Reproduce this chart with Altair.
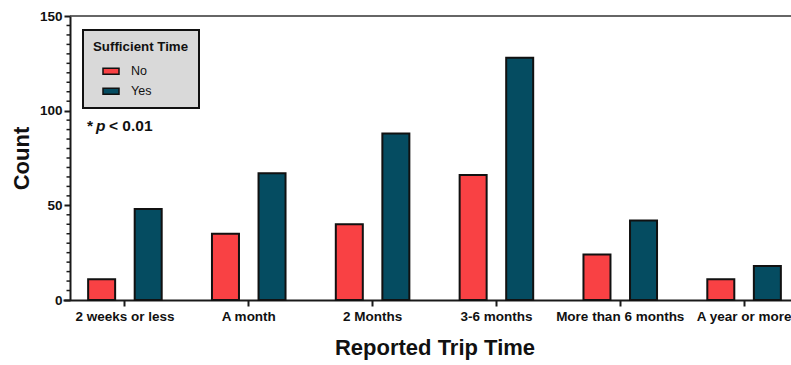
import altair as alt
import pandas as pd

# Survey counts by reported trip length, split by whether time was sufficient
trip_time = ["2 weeks or less", "A month", "2 Months", "3-6 months",
             "More than 6 months", "A year or more"]
count_no = [11, 35, 40, 66, 24, 11]
count_yes = [48, 67, 88, 128, 42, 18]
groups = ["No", "Yes"]
group_colors = ["#f94144", "#054c61"]

y_major = [0, 50, 100, 150]
y_minor = [5, 10, 15, 20, 25, 30, 35, 40, 45, 55, 60, 65, 70, 75, 80, 85, 90, 95,
           105, 110, 115, 120, 125, 130, 135, 140, 145]

FONT = "Liberation Sans"
INK = "#111111"

rows = []
for t, n, y in zip(trip_time, count_no, count_yes):
    rows.append({"trip": t, "group": "No", "count": n})
    rows.append({"trip": t, "group": "Yes", "count": y})
df = pd.DataFrame(rows)

y_scale = alt.Scale(domain=[0, 150], nice=False, zero=True)
y_axis = alt.Axis(
    values=y_major, grid=False, labelFont=FONT, labelFontSize=13.5,
    labelFontWeight="bold", labelColor=INK, labelPadding=2,
    domainColor="#1a1a1a", domainWidth=2, tickColor="#1a1a1a", tickWidth=2,
    tickSize=6, titleFont=FONT, titleFontSize=22, titleFontWeight="bold",
    titleColor=INK, titlePadding=6,
)

bars = alt.Chart(df).mark_bar(stroke=INK, strokeWidth=2).encode(
    x=alt.X(
        "trip:N",
        sort=trip_time,
        scale=alt.Scale(range=[-7, 736], paddingInner=0, paddingOuter=0),
        title="Reported Trip Time",
        axis=alt.Axis(
            labelAngle=0, labelFont=FONT, labelFontSize=13.5, labelFontWeight="bold",
            labelColor=INK, labelPadding=3, labelFlush=False, labelOverlap=False,
            domainColor="#1a1a1a", domainWidth=2, tickColor="#1a1a1a", tickWidth=2,
            tickSize=6, titleFont=FONT, titleFontSize=22, titleFontWeight="bold",
            titleColor=INK, titlePadding=15,
        ),
    ),
    xOffset=alt.XOffset("group:N", sort=groups,
                        scale=alt.Scale(domain=groups, paddingInner=0.42, paddingOuter=0.54)),
    y=alt.Y("count:Q", scale=y_scale, title="Count", axis=y_axis),
    color=alt.Color(
        "group:N",
        scale=alt.Scale(domain=groups, range=group_colors),
        legend=alt.Legend(
            title="Sufficient Time", orient="none", legendX=13, legendY=14,
            fillColor="#d9d9d9", strokeColor=INK, padding=10,
            titleFont=FONT, titleFontSize=13.3, titleFontWeight="bold", titleColor=INK,
            titlePadding=7, labelFont=FONT, labelFontSize=12.5, labelColor=INK,
            labelOffset=9, symbolType="M-0.8,-0.3H0.8V0.3H-0.8Z", symbolSize=400,
            symbolStrokeColor=INK, symbolStrokeWidth=1.5, symbolOffset=7,
            symbolOpacity=1, rowPadding=2,
        ),
    ),
)

# Minor ticks on the count axis
minor = alt.Chart(pd.DataFrame({"count": y_minor})).mark_rule(
    color="#1a1a1a", strokeWidth=1.5
).encode(
    y=alt.Y("count:Q", scale=y_scale, title="Count", axis=y_axis),
    x=alt.value(-3.5),
    x2=alt.value(0),
)

# Upper frame line along the top of the plot
top_line = alt.Chart(pd.DataFrame({"edge": [0]})).mark_rule(
    color="#333333", strokeWidth=1.5
).encode(
    y=alt.value(0),
    x=alt.value(0),
    x2=alt.value(721),
)

# Significance note: "* p < 0.01" with an italic p
note_style = dict(align="left", baseline="alphabetic", font=FONT, fontSize=15.5,
                  fontWeight="bold", color=INK)
star = alt.Chart(pd.DataFrame({"t": ["*"]})).mark_text(**note_style).encode(
    text="t:N", x=alt.value(17), y=alt.value(115))
p_italic = alt.Chart(pd.DataFrame({"t": ["p"]})).mark_text(
    fontStyle="italic", **note_style).encode(text="t:N", x=alt.value(26), y=alt.value(115))
threshold = alt.Chart(pd.DataFrame({"t": ["< 0.01"]})).mark_text(**note_style).encode(
    text="t:N", x=alt.value(39), y=alt.value(115))

chart = alt.layer(bars, minor, top_line, star, p_italic, threshold).properties(
    width=721,
    height=284,
    autosize=alt.AutoSizeParams(type="none"),
    padding={"left": 70, "top": 16, "right": 0, "bottom": 65},
).configure_view(stroke=None).configure_legend(strokeWidth=2)

chart.save("out.html", embed_options={"renderer": "svg", "actions": False})
